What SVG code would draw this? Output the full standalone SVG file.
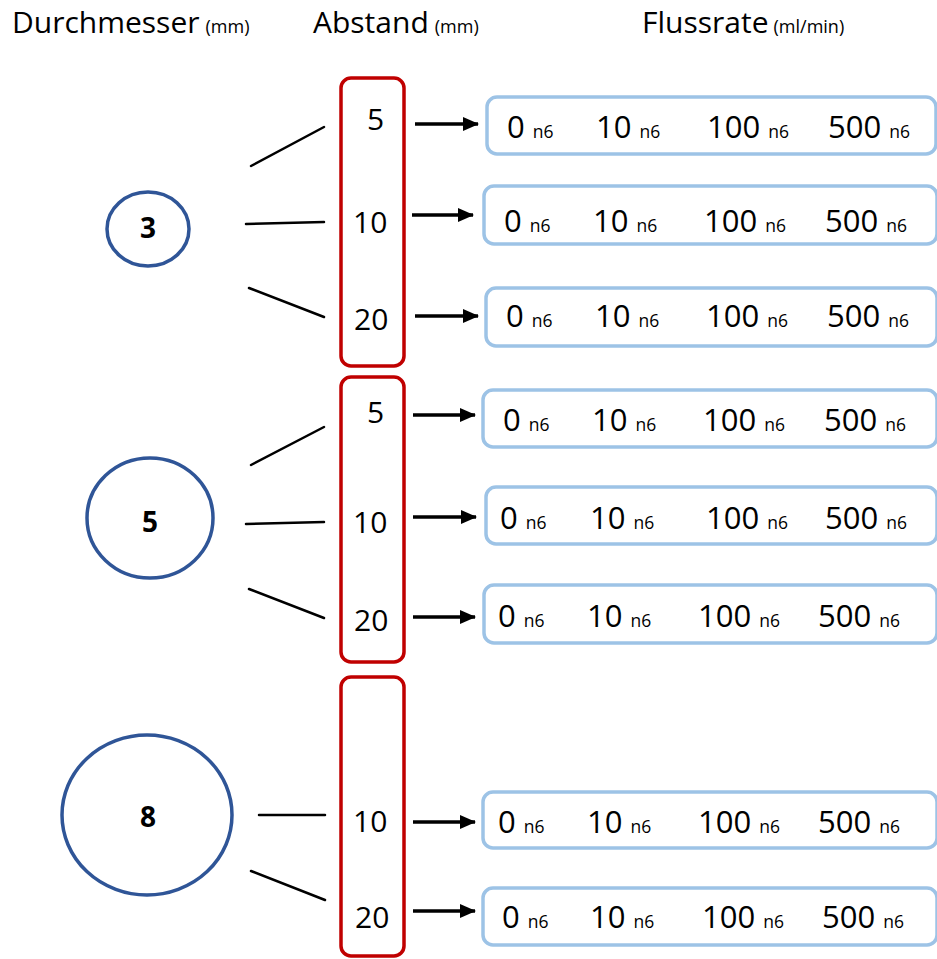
<svg xmlns="http://www.w3.org/2000/svg" width="937" height="959" viewBox="0 0 937 959">
  <style>
    text { font-family: "Open Sans", "Noto Sans", "Liberation Sans", sans-serif; fill: #000; }
    .hdr { font-size: 30px; }
    .unit { font-size: 18px; }
    .dia { fill: none; stroke: #2F5597; stroke-width: 3.5; }
    .dlabel { font-size: 28px; font-weight: bold; text-anchor: middle; }
    .gap { fill: none; stroke: #C00000; stroke-width: 3.5; }
    .glabel { font-size: 30px; }
    .flow { fill: #fff; stroke: #9DC3E6; stroke-width: 3.5; }
    .big { font-size: 31px; }
    .sm { font-size: 17.5px; }
    .link { stroke: #000; stroke-width: 2.5; stroke-linecap: round; }
    .arrow { stroke: #000; stroke-width: 3.5; marker-end: url(#head); }
  </style>
  <defs>
    <marker id="head" markerUnits="userSpaceOnUse" markerWidth="16" markerHeight="14" refX="15" refY="7" orient="auto">
      <path d="M0,0 L16,7 L0,14 Z" fill="#000"/>
    </marker>
  </defs>

  <!-- column headings -->
  <g id="headings">
    <text x="12" y="33"><tspan class="hdr">Durchmesser</tspan><tspan class="unit" dx="6">(mm)</tspan></text>
    <text x="313" y="33"><tspan class="hdr">Abstand</tspan><tspan class="unit" dx="6">(mm)</tspan></text>
    <text x="642" y="33"><tspan class="hdr">Flussrate</tspan><tspan class="unit" dx="5">(ml/min)</tspan></text>
  </g>

  <!-- diameters -->
  <g id="d3">
    <ellipse class="dia" cx="148" cy="229" rx="41" ry="37"/>
    <text class="dlabel" x="148" y="238">3</text>
  </g>
  <g id="d5">
    <ellipse class="dia" cx="150" cy="518" rx="63" ry="60"/>
    <text class="dlabel" x="150" y="532">5</text>
  </g>
  <g id="d8">
    <ellipse class="dia" cx="147" cy="815" rx="85" ry="80"/>
    <text class="dlabel" x="148" y="827">8</text>
  </g>

  <!-- distance groups -->
  <g id="gap-d3">
    <rect class="gap" x="341" y="78" width="63" height="288" rx="10"/>
    <text class="glabel" x="367" y="130">5</text>
    <text class="glabel" x="353" y="233">10</text>
    <text class="glabel" x="354" y="330">20</text>
  </g>
  <g id="gap-d5">
    <rect class="gap" x="341" y="377" width="63" height="285" rx="10"/>
    <text class="glabel" x="367" y="423">5</text>
    <text class="glabel" x="353" y="533">10</text>
    <text class="glabel" x="354" y="631">20</text>
  </g>
  <g id="gap-d8">
    <rect class="gap" x="341" y="677" width="63" height="279" rx="10"/>
    <text class="glabel" x="353" y="832">10</text>
    <text class="glabel" x="355" y="928">20</text>
  </g>

  <!-- flow rate rows -->
  <g id="flow-3-5">
    <rect class="flow" x="487" y="97" width="449" height="57" rx="10"/>
    <text y="138"><tspan class="big" x="507">0</tspan><tspan class="sm" dx="8">n6</tspan><tspan class="big" x="596">10</tspan><tspan class="sm" dx="8">n6</tspan><tspan class="big" x="707">100</tspan><tspan class="sm" dx="8">n6</tspan><tspan class="big" x="828">500</tspan><tspan class="sm" dx="8">n6</tspan></text>
  </g>
  <g id="flow-3-10">
    <rect class="flow" x="484" y="186" width="453" height="58" rx="10"/>
    <text y="232"><tspan class="big" x="504">0</tspan><tspan class="sm" dx="8">n6</tspan><tspan class="big" x="593">10</tspan><tspan class="sm" dx="8">n6</tspan><tspan class="big" x="704">100</tspan><tspan class="sm" dx="8">n6</tspan><tspan class="big" x="825">500</tspan><tspan class="sm" dx="8">n6</tspan></text>
  </g>
  <g id="flow-3-20">
    <rect class="flow" x="486" y="288" width="451" height="58" rx="10"/>
    <text y="327"><tspan class="big" x="506">0</tspan><tspan class="sm" dx="8">n6</tspan><tspan class="big" x="595">10</tspan><tspan class="sm" dx="8">n6</tspan><tspan class="big" x="706">100</tspan><tspan class="sm" dx="8">n6</tspan><tspan class="big" x="827">500</tspan><tspan class="sm" dx="8">n6</tspan></text>
  </g>
  <g id="flow-5-5">
    <rect class="flow" x="483" y="390" width="454" height="57" rx="10"/>
    <text y="431"><tspan class="big" x="503">0</tspan><tspan class="sm" dx="8">n6</tspan><tspan class="big" x="592">10</tspan><tspan class="sm" dx="8">n6</tspan><tspan class="big" x="703">100</tspan><tspan class="sm" dx="8">n6</tspan><tspan class="big" x="824">500</tspan><tspan class="sm" dx="8">n6</tspan></text>
  </g>
  <g id="flow-5-10">
    <rect class="flow" x="486" y="487" width="451" height="57" rx="10"/>
    <text y="529"><tspan class="big" x="500">0</tspan><tspan class="sm" dx="8">n6</tspan><tspan class="big" x="590">10</tspan><tspan class="sm" dx="8">n6</tspan><tspan class="big" x="706">100</tspan><tspan class="sm" dx="8">n6</tspan><tspan class="big" x="825">500</tspan><tspan class="sm" dx="8">n6</tspan></text>
  </g>
  <g id="flow-5-20">
    <rect class="flow" x="484" y="585" width="453" height="58" rx="10"/>
    <text y="627"><tspan class="big" x="498">0</tspan><tspan class="sm" dx="8">n6</tspan><tspan class="big" x="587">10</tspan><tspan class="sm" dx="8">n6</tspan><tspan class="big" x="698">100</tspan><tspan class="sm" dx="8">n6</tspan><tspan class="big" x="818">500</tspan><tspan class="sm" dx="8">n6</tspan></text>
  </g>
  <g id="flow-8-10">
    <rect class="flow" x="483" y="792" width="454" height="56" rx="10"/>
    <text y="833"><tspan class="big" x="498">0</tspan><tspan class="sm" dx="8">n6</tspan><tspan class="big" x="587">10</tspan><tspan class="sm" dx="8">n6</tspan><tspan class="big" x="698">100</tspan><tspan class="sm" dx="8">n6</tspan><tspan class="big" x="818">500</tspan><tspan class="sm" dx="8">n6</tspan></text>
  </g>
  <g id="flow-8-20">
    <rect class="flow" x="483" y="888" width="454" height="57" rx="10"/>
    <text y="928"><tspan class="big" x="502">0</tspan><tspan class="sm" dx="8">n6</tspan><tspan class="big" x="590">10</tspan><tspan class="sm" dx="8">n6</tspan><tspan class="big" x="702">100</tspan><tspan class="sm" dx="8">n6</tspan><tspan class="big" x="822">500</tspan><tspan class="sm" dx="8">n6</tspan></text>
  </g>

  <!-- connectors -->
  <g id="connectors">
    <line class="link" x1="251" y1="166" x2="324" y2="127"/>
    <line class="link" x1="246" y1="224" x2="324" y2="222"/>
    <line class="link" x1="249" y1="288" x2="324" y2="317"/>
    <line class="link" x1="251" y1="465" x2="324" y2="427"/>
    <line class="link" x1="246" y1="524" x2="324" y2="522"/>
    <line class="link" x1="249" y1="589" x2="324" y2="618"/>
    <line class="link" x1="259" y1="815" x2="325" y2="815"/>
    <line class="link" x1="251" y1="871" x2="325" y2="900"/>

    <line class="arrow" x1="415" y1="124" x2="478" y2="124"/>
    <line class="arrow" x1="412" y1="215" x2="473" y2="215"/>
    <line class="arrow" x1="415" y1="316" x2="478" y2="316"/>
    <line class="arrow" x1="413" y1="415" x2="475" y2="415"/>
    <line class="arrow" x1="413" y1="517" x2="476" y2="517"/>
    <line class="arrow" x1="413" y1="617" x2="475" y2="617"/>
    <line class="arrow" x1="413" y1="822" x2="475" y2="822"/>
    <line class="arrow" x1="413" y1="911" x2="475" y2="911"/>
  </g>
</svg>
